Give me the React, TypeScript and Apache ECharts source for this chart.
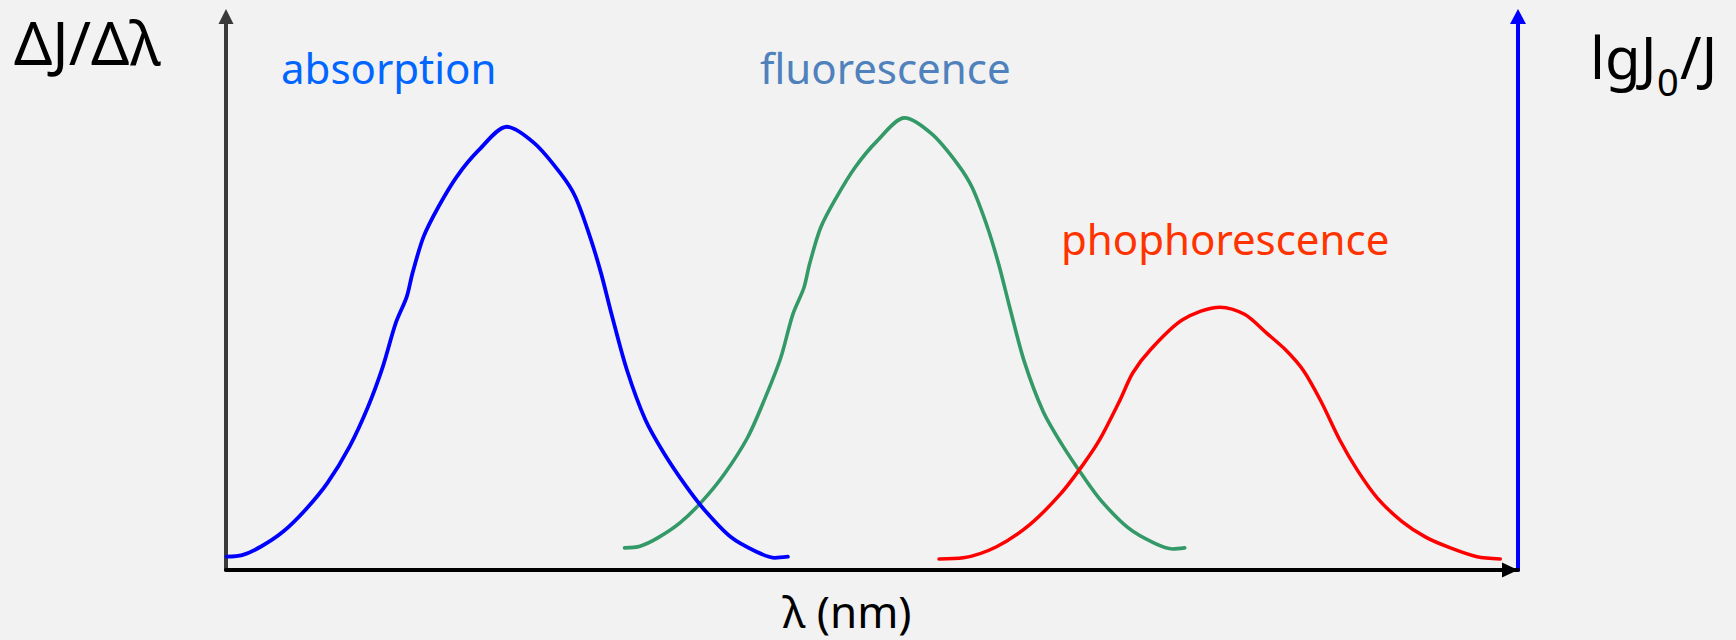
import React, { useEffect, useRef } from "react";
import * as echarts from "echarts";

// [wavelength (arbitrary units), intensity (arbitrary units)]
const absorption: [number, number][] = [
  [0.06, 2.4], [1.46, 2.7], [3.13, 4.2], [5.14, 6.9], [7.14, 10.8],
  [9.15, 15.7], [11.16, 22.3], [12.83, 29.5], [14.16, 36.7], [15.33, 44.6],
  [16.33, 49.4], [16.84, 53.6], [17.84, 60.2], [19.18, 65.6], [20.85, 71.1],
  [22.85, 75.9], [25.36, 80.1], [27.87, 77.1], [30.2, 71.7], [31.54, 67.5],
  [32.88, 60.2], [33.88, 53.6], [34.88, 45.8], [36.22, 36.1], [37.89, 27.1],
  [39.56, 21.1], [41.57, 15.1], [43.24, 10.8], [45.57, 6.0], [47.91, 3.3],
  [49.58, 2.2], [50.75, 2.4],
];

const fluorescence: [number, number][] = [
  [36.0, 4.0], [37.4, 4.3], [39.0, 5.8], [41.0, 8.5], [43.0, 12.4],
  [45.0, 17.3], [47.1, 23.9], [48.7, 31.1], [50.1, 38.3], [51.2, 46.2],
  [52.2, 51.0], [52.7, 55.2], [53.7, 61.8], [55.1, 67.2], [56.8, 72.7],
  [58.8, 77.5], [61.3, 81.7], [63.8, 78.7], [66.1, 73.3], [67.4, 69.1],
  [68.8, 61.8], [69.8, 55.2], [70.8, 47.4], [72.1, 37.7], [73.8, 28.7],
  [75.5, 22.7], [77.5, 16.7], [79.1, 12.4], [81.5, 7.6], [83.8, 4.9],
  [85.5, 3.8], [86.6, 4.0],
];

const phosphorescence: [number, number][] = [
  [64.4, 2.0], [66.6, 2.2], [69.6, 4.2], [72.6, 8.2], [75.4, 13.8],
  [77.4, 19.0], [78.9, 23.5], [80.75, 30.7], [81.9, 35.6], [83.5, 39.8],
  [86.4, 45.2], [89.8, 47.5], [92.0, 46.2], [94.0, 42.8], [95.7, 39.8],
  [97.3, 36.1], [98.9, 30.5], [100.6, 23.5], [102.2, 18.0], [104.0, 13.0],
  [106.2, 8.8], [108.4, 5.9], [110.6, 4.0], [113.0, 2.4], [115.1, 2.0],
];

const seriesNames = ["absorption", "fluorescence", "phophorescence"];
const xAxisTitle = "λ (nm)";
const leftAxisTitle = "ΔJ/Δλ";
const rightAxisTitleParts = ["lgJ", "0", "/J"];

const X_MAX = 116.7;
const Y_MAX = 100;

const FONT = "'Noto Sans', 'DejaVu Sans', sans-serif";

export default function App() {
  const ref = useRef<HTMLDivElement>(null);

  useEffect(() => {
    if (!ref.current) return;
    const chart = echarts.init(ref.current, null, { renderer: "svg" });

    const axisCommon = {
      axisTick: { show: false },
      axisLabel: { show: false },
      splitLine: { show: false },
    };

    const lineSeries = (
      name: string,
      data: [number, number][],
      color: string,
      width: number,
      z: number
    ) => ({
      name,
      type: "line",
      data,
      symbol: "none",
      smooth: 0.3,
      lineStyle: { color, width, cap: "round", join: "round" },
      z,
    });

    chart.setOption({
      animation: false,
      backgroundColor: "#F2F2F2",
      grid: { left: 226, right: 218, top: 16.6, bottom: 70, containLabel: false },
      xAxis: {
        type: "value",
        min: 0,
        max: X_MAX,
        ...axisCommon,
        axisLine: {
          show: true,
          onZero: false,
          symbol: ["none", "triangle"],
          symbolSize: [15, 16],
          symbolOffset: [0, -8],
          lineStyle: { color: "#000000", width: 4 },
        },
      },
      yAxis: [
        {
          type: "value",
          min: 0,
          max: Y_MAX,
          position: "left",
          ...axisCommon,
          axisLine: {
            show: true,
            onZero: false,
            symbol: ["none", "triangle"],
            symbolSize: [15, 15],
            lineStyle: { color: "#3A3A3A", width: 4 },
          },
        },
        {
          type: "value",
          min: 0,
          max: Y_MAX,
          position: "right",
          ...axisCommon,
          axisLine: {
            show: true,
            onZero: false,
            symbol: ["none", "triangle"],
            symbolSize: [16, 15],
            lineStyle: { color: "#0000FF", width: 4 },
          },
        },
      ],
      series: [
        lineSeries(seriesNames[1], fluorescence, "#339966", 3.6, 2),
        lineSeries(seriesNames[2], phosphorescence, "#FF0000", 3.5, 3),
        lineSeries(seriesNames[0], absorption, "#0000FF", 3.8, 4),
      ],
      graphic: [
        {
          type: "text",
          x: 14,
          y: 42,
          style: {
            text: leftAxisTitle,
            font: `60px ${FONT}`,
            fill: "#000000",
            textAlign: "left",
            textVerticalAlign: "middle",
          },
        },
        {
          type: "text",
          x: 1590,
          y: 56,
          style: {
            text: rightAxisTitleParts[0],
            font: `58px ${FONT}`,
            fill: "#000000",
            textAlign: "left",
            textVerticalAlign: "middle",
          },
        },
        {
          type: "text",
          x: 1657,
          y: 81,
          style: {
            text: rightAxisTitleParts[1],
            font: `38px ${FONT}`,
            fill: "#000000",
            textAlign: "left",
            textVerticalAlign: "middle",
          },
        },
        {
          type: "text",
          x: 1680,
          y: 56,
          style: {
            text: rightAxisTitleParts[2],
            font: `58px ${FONT}`,
            fill: "#000000",
            textAlign: "left",
            textVerticalAlign: "middle",
          },
        },
        {
          type: "text",
          x: 847,
          y: 611,
          style: {
            text: xAxisTitle,
            font: `44px ${FONT}`,
            fill: "#000000",
            textAlign: "center",
            textVerticalAlign: "middle",
          },
        },
        {
          type: "text",
          x: 281,
          y: 67,
          style: {
            text: seriesNames[0],
            font: `42px ${FONT}`,
            fill: "#0066FF",
            textAlign: "left",
            textVerticalAlign: "middle",
          },
        },
        {
          type: "text",
          x: 760,
          y: 67,
          style: {
            text: seriesNames[1],
            font: `42px ${FONT}`,
            fill: "#4F81BD",
            textAlign: "left",
            textVerticalAlign: "middle",
          },
        },
        {
          type: "text",
          x: 1061,
          y: 238,
          style: {
            text: seriesNames[2],
            font: `42px ${FONT}`,
            fill: "#FF3300",
            textAlign: "left",
            textVerticalAlign: "middle",
          },
        },
      ],
    });

    return () => {
      chart.dispose();
    };
  }, []);

  return (
    <div
      ref={ref}
      style={{ position: "fixed", left: 0, top: 0, width: 1736, height: 640 }}
    />
  );
}
